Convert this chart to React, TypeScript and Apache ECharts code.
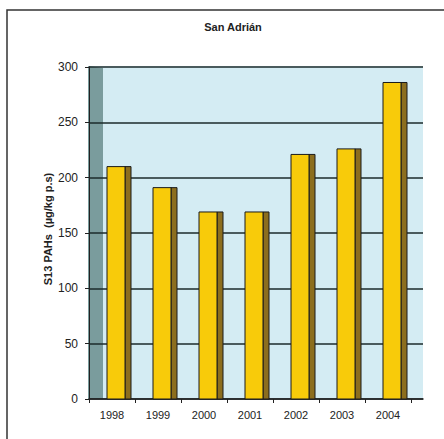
import React, { useEffect, useRef } from "react";
import * as echarts from "echarts";

const years = ["1998", "1999", "2000", "2001", "2002", "2003", "2004"];
const pahValues = [210, 191, 169, 169, 221, 226, 286];
const yTicks = { min: 0, max: 300, interval: 50 };

const FRONT = "#F8CB0A";
const SIDE = "#8C6E1E";
const EDGE = "#1a1a1a";
const FONT = "Liberation Sans, Arial";

export default function App() {
  const ref = useRef<HTMLDivElement>(null);

  useEffect(() => {
    if (!ref.current) return;
    const chart = echarts.init(ref.current, undefined, { renderer: "svg" });

    // Each bar: a yellow front face with a darker right-hand side face.
    const renderBar = (params: any, api: any) => {
      const idx = api.value(0);
      const val = api.value(1);
      const top = api.coord([idx, val]);
      const base = api.coord([idx, 0]);
      const left = top[0] - 5;
      const w = 18;
      const sw = 6;
      return {
        type: "group",
        children: [
          {
            type: "rect",
            shape: { x: left + w, y: top[1], width: sw, height: base[1] - top[1] },
            style: { fill: SIDE, stroke: EDGE, lineWidth: 1 },
          },
          {
            type: "rect",
            shape: { x: left, y: top[1], width: w, height: base[1] - top[1] },
            style: { fill: FRONT, stroke: EDGE, lineWidth: 1 },
          },
        ],
      };
    };

    chart.setOption({
      animation: false,
      backgroundColor: "#fff",
      title: {
        text: "San Adrián",
        left: 228,
        top: 16,
        textAlign: "center",
        textStyle: { fontFamily: FONT, fontSize: 11, fontWeight: "bold", color: "#222" },
      },
      graphic: [
        // chart frame (top and left edges)
        {
          type: "polyline",
          z: -20,
          shape: { points: [[7, 439], [7, 10], [444, 10]] },
          style: { fill: "none", stroke: "#333", lineWidth: 1.5 },
        },
        // back wall
        {
          type: "rect",
          z: -10,
          shape: { x: 89, y: 66, width: 334, height: 333 },
          style: { fill: "#D4ECF3" },
        },
        // side wall
        {
          type: "polygon",
          z: -9,
          shape: { points: [[88, 66], [103, 68], [103, 399], [88, 399]] },
          style: { fill: "#7A9C9D" },
        },
        {
          type: "text",
          x: 48,
          y: 229,
          rotation: Math.PI / 2,
          style: {
            text: "S13 PAHs  (µg/kg p.s)",
            fontFamily: FONT,
            fontSize: 11,
            fontWeight: "bold",
            fill: "#222",
            align: "center",
            verticalAlign: "middle",
          },
        },
      ],
      grid: [
        { left: 89, right: 33, top: 67, bottom: 40 },
        { left: 89, right: 21, top: 67, bottom: 40 },
      ],
      xAxis: [
        {
          type: "category",
          gridIndex: 0,
          data: years,
          axisLine: { show: false },
          axisTick: { show: true, length: 4, lineStyle: { color: "#222" } },
          axisLabel: { margin: 10, fontFamily: FONT, fontSize: 11, color: "#222" },
        },
        {
          type: "category",
          gridIndex: 1,
          data: years,
          axisLine: { show: true, lineStyle: { color: "#222", width: 1.5 } },
          axisTick: { show: false },
          axisLabel: { show: false },
        },
      ],
      yAxis: [
        {
          type: "value",
          gridIndex: 0,
          ...yTicks,
          axisLine: { show: true, lineStyle: { color: "#222", width: 1 } },
          axisTick: { show: true, length: 4, lineStyle: { color: "#222" } },
          splitLine: { show: false },
          axisLabel: { margin: 11, fontFamily: FONT, fontSize: 12, color: "#222" },
        },
        {
          type: "value",
          gridIndex: 1,
          ...yTicks,
          axisLine: { show: false },
          axisTick: { show: false },
          axisLabel: { show: false },
          splitLine: { show: true, lineStyle: { color: "#1d2b2b", width: 1.5 } },
        },
      ],
      series: [
        {
          type: "custom",
          xAxisIndex: 0,
          yAxisIndex: 0,
          renderItem: renderBar,
          data: pahValues.map((v, i) => [i, v]),
          z: 5,
        },
      ],
    });

    return () => chart.dispose();
  }, []);

  return (
    <div
      ref={ref}
      style={{ width: 444, height: 439, position: "absolute", left: 0, top: 0, overflow: "hidden" }}
    />
  );
}
